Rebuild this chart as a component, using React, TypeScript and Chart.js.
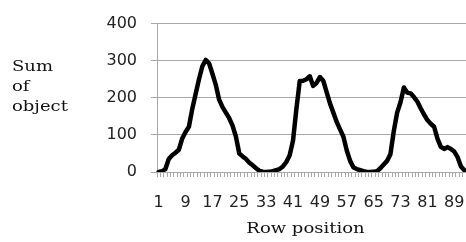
import React, { useEffect, useRef } from "react";
import { Chart, registerables } from "chart.js";

Chart.register(...registerables);

const rowPositions: string[] = Array.from({ length: 92 }, (_, i) => String(i + 1));
const shownTicks: string[] = ["1", "9", "17", "25", "33", "41", "49", "57", "65", "73", "81", "89"];
const sumOfObject: number[] = [
  0, 2, 8, 35, 45, 52, 60, 90, 108, 122,
  170, 210, 250, 285, 302, 293, 265, 235, 195, 175,
  160, 145, 125, 95, 50, 42, 35, 25, 18, 10,
  3, 1, 0, 1, 2, 5, 8, 15, 27, 45,
  85, 170, 245, 246, 250, 258, 232, 240, 256, 246,
  215, 185, 160, 135, 115, 95, 58, 30, 12, 8,
  5, 2, 0, 0, 1, 2, 10, 20, 30, 48,
  110, 160, 188, 228, 214, 212, 202, 190, 172, 155,
  140, 130, 122, 90, 68, 62, 67, 62, 55, 40,
  15, 5,
];
const yTicks: number[] = [0, 100, 200, 300, 400];
const yTitleLines: string[] = ["Sum", "of", "object"];
const xTitle = "Row position";

const titlePlugin = {
  id: "titles",
  afterDraw(chart: any) {
    const ctx = chart.ctx as CanvasRenderingContext2D;
    ctx.save();
    ctx.fillStyle = "#111";
    ctx.font = '15px "DejaVu Serif"';
    ctx.textBaseline = "alphabetic";
    ctx.textAlign = "left";
    const baselines = [71, 91, 111];
    yTitleLines.forEach((t, i) => {
      ctx.save();
      ctx.translate(12, baselines[i]);
      ctx.scale(1.2, 1);
      ctx.fillText(t, 0, 0);
      ctx.restore();
    });
    const ca = chart.chartArea;
    ctx.save();
    ctx.translate((ca.left + ca.right) / 2 - 6, 233);
    ctx.scale(1.2, 1);
    ctx.textAlign = "center";
    ctx.fillText(xTitle, 0, 0);
    ctx.restore();
    ctx.restore();
  },
};

export default function App() {
  const ref = useRef<HTMLCanvasElement>(null);
  useEffect(() => {
    if (!ref.current) return;
    const chart = new Chart(ref.current, {
      type: "line",
      data: {
        labels: rowPositions,
        datasets: [
          {
            data: sumOfObject,
            borderColor: "#000",
            borderWidth: 4.5,
            pointRadius: 0,
            tension: 0,
            borderJoinStyle: "round",
            borderCapStyle: "round",
            fill: false,
          },
        ],
      },
      options: {
        animation: false,
        responsive: false,
        layout: { padding: { top: 21, right: 0, left: 0, bottom: 0 } },
        plugins: { legend: { display: false }, tooltip: { enabled: false } },
        scales: {
          x: {
            type: "category",
            offset: true,
            grid: {
              offset: true,
              drawOnChartArea: false,
              drawTicks: true,
              tickLength: 5,
              color: "#a8a8a8",
            },
            border: { color: "#a8a8a8" },
            ticks: {
              autoSkip: false,
              maxRotation: 0,
              minRotation: 0,
              padding: 16,
              color: "#222",
              font: { family: "DejaVu Sans", size: 16 },
              callback: function (this: any, val: any, index: number) {
                const l = rowPositions[index];
                return shownTicks.includes(l) ? l : "";
              },
            },
            afterFit(scale: any) {
              scale.height = 70;
              scale.paddingLeft = 0;
              scale.paddingRight = 0;
            },
          },
          y: {
            min: 0,
            max: 400,
            afterBuildTicks(scale: any) {
              scale.ticks = yTicks.map((v) => ({ value: v }));
            },
            grid: { color: "#a8a8a8", tickLength: 6, drawTicks: true },
            border: { color: "#a8a8a8" },
            ticks: {
              padding: 14,
              color: "#222",
              font: { family: "DejaVu Sans", size: 16 },
            },
            afterFit(scale: any) {
              scale.width = 157;
            },
          },
        },
      },
      plugins: [titlePlugin],
    });
    return () => chart.destroy();
  }, []);
  return (
    <div style={{ position: "fixed", left: 0, top: 0, width: 466, height: 242, background: "#fff" }}>
      <canvas ref={ref} width={466} height={242} style={{ width: 466, height: 242 }} />
    </div>
  );
}
